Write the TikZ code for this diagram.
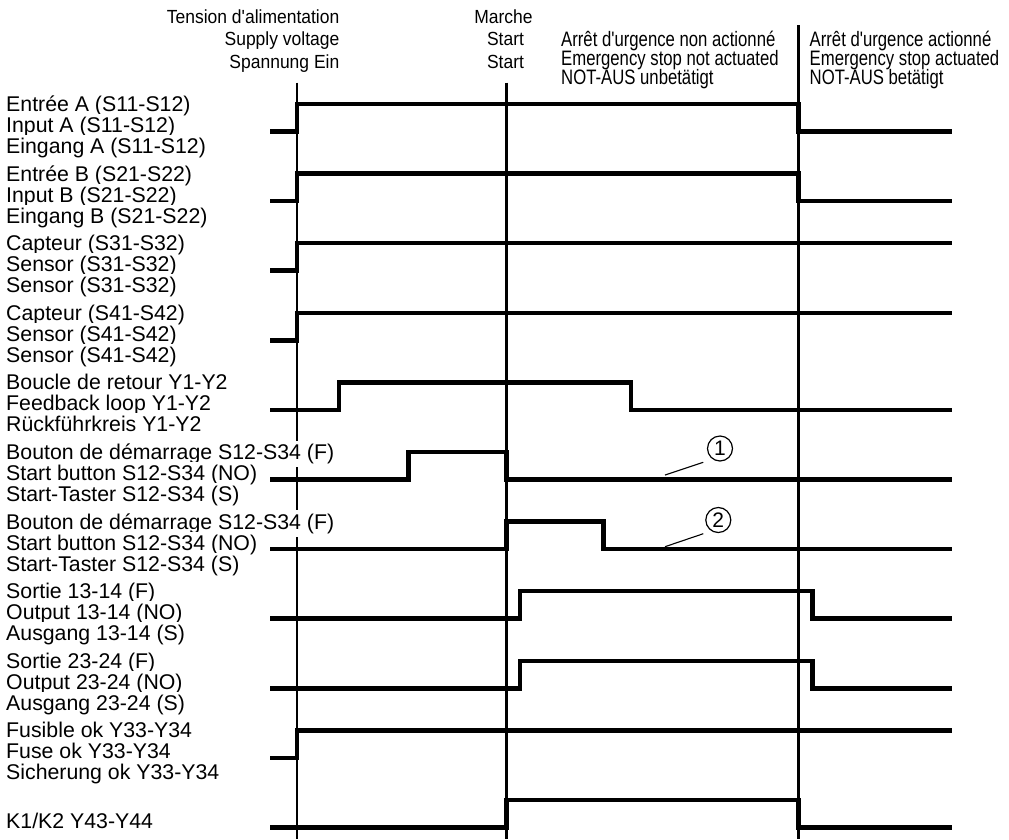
\documentclass[tikz,border=0pt]{standalone}
\usepackage{fontspec}
\newfontfamily\lblfont{Liberation Sans}
\newfontfamily\hdrA[FakeStretch=0.92]{Liberation Sans}
\newfontfamily\hdrB[FakeStretch=0.8]{Liberation Sans}
\begin{document}
\begin{tikzpicture}[x=1pt,y=-1pt,
  trace/.style={line width=4.5pt, line join=miter},
  marker/.style={line width=2.2pt},
  leader/.style={line width=1.1pt},
  lbl/.style={anchor=base west, fill=white, inner xsep=1pt, inner ysep=3pt,
    font=\lblfont\fontsize{21.3}{21}\selectfont},
  hdra/.style={inner sep=0pt, font=\hdrA\fontsize{19}{22}\selectfont},
  hdrb/.style={inner sep=0pt, anchor=base west, font=\hdrB\fontsize{20.9}{19}\selectfont},
  num/.style={circle, draw, line width=1.2pt, minimum size=25pt, inner sep=0pt,
    font=\lblfont\fontsize{21}{21}\selectfont}]
\useasboundingbox (0,0) rectangle (1009,839);

% vertical event markers
\draw[marker] (297,82.5) -- (297,839);
\draw[marker] (506.5,82.5) -- (506.5,839);
\draw[marker] (798.5,25) -- (798.5,839);

% headers
\node[hdra, anchor=base east] (h1a) at (339.5,23.5) {Tension d'alimentation};
\node[hdra, anchor=base east] (h1b) at (339.5,45.8) {Supply voltage};
\node[hdra, anchor=base east] (h1c) at (339.5,68.1) {Spannung Ein};
\node[hdra, anchor=base] (h2a) at (503.5,23.5) {Marche};
\node[hdra, anchor=base] (h2b) at (505.5,45.8) {Start};
\node[hdra, anchor=base] (h2c) at (505.5,68.1) {Start};
\node[hdrb] (h3a) at (561,46.5) {Arrêt d'urgence non actionné};
\node[hdrb] (h3b) at (561,65.5) {Emergency stop not actuated};
\node[hdrb] (h3c) at (561,84.5) {NOT-AUS unbetätigt};
\node[hdrb] (h4a) at (809.5,46.5) {Arrêt d'urgence actionné};
\node[hdrb] (h4b) at (809.5,65.5) {Emergency stop actuated};
\node[hdrb] (h4c) at (809.5,84.5) {NOT-AUS betätigt};

% row labels
\foreach \i/\a/\b/\c in {
  0/{Entrée A (S11-S12)}/{Input A (S11-S12)}/{Eingang A (S11-S12)},
  1/{Entrée B (S21-S22)}/{Input B (S21-S22)}/{Eingang B (S21-S22)},
  2/{Capteur (S31-S32)}/{Sensor (S31-S32)}/{Sensor (S31-S32)},
  3/{Capteur (S41-S42)}/{Sensor (S41-S42)}/{Sensor (S41-S42)},
  4/{Boucle de retour Y1-Y2}/{Feedback loop Y1-Y2}/{Rückführkreis Y1-Y2},
  5/{Bouton de démarrage S12-S34 (F)}/{Start button S12-S34 (NO)}/{Start-Taster S12-S34 (S)},
  6/{Bouton de démarrage S12-S34 (F)}/{Start button S12-S34 (NO)}/{Start-Taster S12-S34 (S)},
  7/{Sortie 13-14 (F)}/{Output 13-14 (NO)}/{Ausgang 13-14 (S)},
  8/{Sortie 23-24 (F)}/{Output 23-24 (NO)}/{Ausgang 23-24 (S)},
  9/{Fusible ok Y33-Y34}/{Fuse ok Y33-Y34}/{Sicherung ok Y33-Y34}}{
  \pgfmathsetmacro\L{131.5+69.6*\i}
  \node[lbl] (la\i) at (5,\L-20) {\a};
  \node[lbl] (lb\i) at (5,\L+1) {\b};
  \node[lbl] (lc\i) at (5,\L+22) {\c};
}
\node[lbl] (lb10) at (5,828.5) {K1/K2 Y43-Y44};

% traces
\draw[trace] (270,131.5) -- (297,131.5) -- (297,104) -- (798.5,104) -- (798.5,131.5) -- (952,131.5);
\draw[trace] (270,201.1) -- (297,201.1) -- (297,173.6) -- (798.5,173.6) -- (798.5,201.1) -- (952,201.1);
\draw[trace] (270,270.7) -- (297,270.7) -- (297,243.2) -- (952,243.2);
\draw[trace] (270,340.3) -- (297,340.3) -- (297,312.8) -- (952,312.8);
\draw[trace] (270,409.9) -- (339,409.9) -- (339,382.4) -- (631,382.4) -- (631,409.9) -- (952,409.9);
\draw[trace] (270,479.5) -- (408.5,479.5) -- (408.5,452) -- (506.5,452) -- (506.5,479.5) -- (952,479.5);
\draw[trace] (270,549.1) -- (506.5,549.1) -- (506.5,521.6) -- (603.5,521.6) -- (603.5,549.1) -- (952,549.1);
\draw[trace] (270,618.7) -- (520,618.7) -- (520,591.2) -- (812.5,591.2) -- (812.5,618.7) -- (952,618.7);
\draw[trace] (270,688.3) -- (520,688.3) -- (520,660.8) -- (812.5,660.8) -- (812.5,688.3) -- (952,688.3);
\draw[trace] (270,757.9) -- (297,757.9) -- (297,730.4) -- (952,730.4);
\draw[trace] (270,827.5) -- (506.5,827.5) -- (506.5,800) -- (798.5,800) -- (798.5,827.5) -- (952,827.5);

% numbered callouts
\node[num] (n1) at (720,448.5) {1};
\coordinate (n1s) at (703.3,462.3);
\coordinate (n1e) at (665,475);
\draw[leader] (n1s) -- (n1e);
\node[num] (n2) at (718.3,520) {2};
\coordinate (n2s) at (703.3,533.7);
\coordinate (n2e) at (665,546.7);
\draw[leader] (n2s) -- (n2e);
\end{tikzpicture}
\end{document}
